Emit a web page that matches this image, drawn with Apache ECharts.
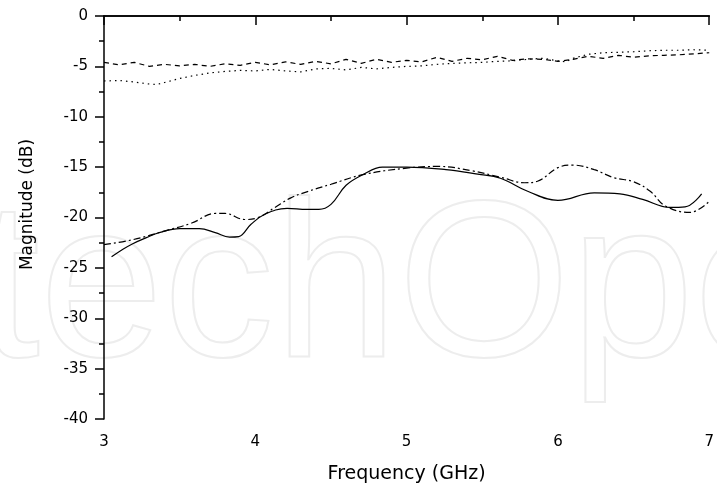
<!DOCTYPE html>
<html>
<head>
<meta charset="utf-8">
<script src="https://cdn.jsdelivr.net/npm/echarts@6/dist/echarts.min.js"></script>
<style>html,body{margin:0;padding:0;background:#fff;}#c{width:717px;height:489px;}</style>
</head>
<body>
<div id="c"></div>
<script>
// Frequency (GHz) / magnitude (dB) pairs
var dashedCurve = [[3.0,-4.6],[3.1,-4.85],[3.2,-4.6],[3.3,-5.0],[3.4,-4.8],[3.5,-4.95],[3.6,-4.8],[3.7,-5.0],[3.8,-4.75],[3.9,-4.9],[4.0,-4.6],[4.1,-4.85],[4.2,-4.55],[4.3,-4.8],[4.4,-4.5],[4.5,-4.75],[4.6,-4.3],[4.7,-4.7],[4.8,-4.3],[4.9,-4.6],[5.0,-4.4],[5.1,-4.55],[5.2,-4.1],[5.3,-4.5],[5.4,-4.2],[5.5,-4.35],[5.6,-4.0],[5.7,-4.4],[5.8,-4.25],[5.9,-4.3],[6.0,-4.5],[6.1,-4.3],[6.2,-4.0],[6.3,-4.2],[6.4,-3.9],[6.5,-4.1],[6.6,-3.95],[6.7,-3.9],[6.8,-3.85],[6.9,-3.75],[7.0,-3.65]];
var dottedCurve = [[3.0,-6.45],[3.1,-6.4],[3.2,-6.55],[3.3,-6.75],[3.35,-6.8],[3.4,-6.6],[3.5,-6.2],[3.6,-5.9],[3.7,-5.65],[3.8,-5.5],[3.9,-5.4],[4.0,-5.45],[4.1,-5.3],[4.2,-5.45],[4.3,-5.55],[4.4,-5.25],[4.5,-5.2],[4.6,-5.35],[4.7,-5.1],[4.8,-5.25],[4.9,-5.1],[5.0,-5.0],[5.1,-4.95],[5.2,-4.8],[5.3,-4.7],[5.4,-4.65],[5.5,-4.6],[5.6,-4.5],[5.7,-4.45],[5.8,-4.3],[5.9,-4.2],[6.0,-4.45],[6.05,-4.55],[6.1,-4.2],[6.2,-3.8],[6.3,-3.65],[6.4,-3.6],[6.5,-3.55],[6.6,-3.45],[6.7,-3.4],[6.8,-3.4],[6.9,-3.35],[7.0,-3.4]];
var solidCurve = [[3.05,-23.9],[3.12,-23.2],[3.19,-22.6],[3.28,-22.0],[3.365,-21.5],[3.5,-21.1],[3.63,-21.1],[3.735,-21.5],[3.83,-21.95],[3.89,-21.9],[3.97,-20.7],[4.06,-19.7],[4.21,-19.1],[4.34,-19.2],[4.42,-19.2],[4.5,-18.7],[4.6,-16.8],[4.71,-15.75],[4.84,-15.0],[5.0,-15.0],[5.26,-15.25],[5.47,-15.7],[5.62,-16.1],[5.8,-17.4],[6.0,-18.3],[6.24,-17.55],[6.41,-17.65],[6.56,-18.2],[6.74,-19.0],[6.84,-18.95],[6.95,-17.65]];
var dashDotCurve = [[3.0,-22.7],[3.19,-22.2],[3.41,-21.3],[3.58,-20.55],[3.735,-19.6],[3.8,-19.6],[3.93,-20.2],[4.02,-20.0],[4.13,-19.0],[4.235,-18.05],[4.34,-17.45],[4.5,-16.7],[4.71,-15.75],[5.0,-15.1],[5.21,-14.93],[5.43,-15.36],[5.62,-16.0],[5.78,-16.55],[5.865,-16.4],[6.0,-15.05],[6.1,-14.8],[6.24,-15.25],[6.37,-16.05],[6.5,-16.45],[6.61,-17.4],[6.71,-18.85],[6.87,-19.5],[7.0,-18.4]];
var xTitle = 'Frequency (GHz)';
var yTitle = 'Magnitude (dB)';

var FONT = 'DejaVu Sans';
var chart = echarts.init(document.getElementById('c'), null, {renderer: 'canvas'});
function line(data, dash, smooth) {
  return {type: 'line', data: data, symbol: 'none', smooth: smooth, xAxisIndex: 0, yAxisIndex: 0,
    lineStyle: {color: '#000', width: 1.2, type: dash}, z: 3, animation: false};
}
chart.setOption({
  backgroundColor: '#fff',
  animation: false,
  graphic: [{
    type: 'text', z: 0, silent: true, left: -208, top: 183,
    style: {text: 'IntechOpen', font: '222px "Liberation Sans"', fill: 'rgba(0,0,0,0)', stroke: '#ededed', lineWidth: 2}
  }],
  grid: {left: 104, top: 16, right: -2, bottom: 65, containLabel: false},
  xAxis: [{
    type: 'value', min: 3, max: 7, interval: 1, position: 'bottom',
    name: xTitle, nameLocation: 'middle', nameGap: 46,
    nameTextStyle: {fontFamily: FONT, fontSize: 19, color: '#000'},
    axisLine: {lineStyle: {color: '#000', width: 1.5}},
    axisTick: {inside: false, length: 9, lineStyle: {color: '#000', width: 1.5}},
    minorTick: {show: true, splitNumber: 2, length: 5, lineStyle: {color: '#000', width: 1.5}},
    axisLabel: {fontFamily: FONT, fontSize: 15, color: '#000', margin: 16},
    splitLine: {show: false}
  }, {
    type: 'value', min: 3, max: 7, position: 'top',
    axisLine: {show: true, lineStyle: {color: '#000', width: 1.5}},
    axisTick: {show: false}, axisLabel: {show: false}, splitLine: {show: false}
  }],
  yAxis: [{
    type: 'value', min: -40, max: 0, interval: 5,
    name: yTitle, nameLocation: 'middle', nameGap: 68, nameRotate: 90,
    nameTextStyle: {fontFamily: FONT, fontSize: 17, color: '#000', padding: [0, 0, 0, 26]},
    axisLine: {show: true, lineStyle: {color: '#000', width: 1.5}},
    axisTick: {inside: false, length: 9, lineStyle: {color: '#000', width: 1.5}},
    minorTick: {show: true, splitNumber: 2, length: 5, lineStyle: {color: '#000', width: 1.5}},
    axisLabel: {fontFamily: FONT, fontSize: 15, color: '#000', margin: 16},
    splitLine: {show: false}
  }],
  series: [
    line(dashedCurve, [5, 4], false),
    line(dottedCurve, [1.5, 4], false),
    line(solidCurve, 'solid', 0.4),
    line(dashDotCurve, [7, 3, 2, 3], 0.4)
  ]
});
</script>
</body>
</html>
